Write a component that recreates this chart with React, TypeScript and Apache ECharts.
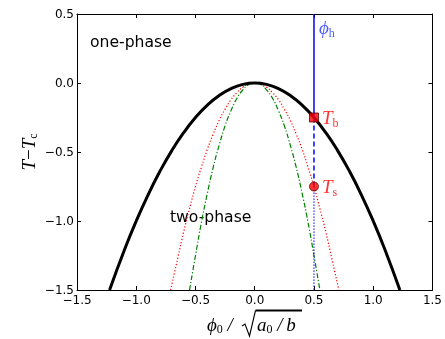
import React, { useEffect, useRef } from "react";
import * as echarts from "echarts";

// Binodal (thick black) curve points
const binodalX = [-1.225, -1.1, -1.0, -0.9, -0.8, -0.7, -0.6, -0.5, -0.4, -0.3, -0.2, -0.1, 0, 0.1, 0.2, 0.3, 0.4, 0.5, 0.6, 0.7, 0.8, 0.9, 1.0, 1.1, 1.225];
const binodalY = [-1.5, -1.21, -1.0, -0.81, -0.64, -0.49, -0.36, -0.25, -0.16, -0.09, -0.04, -0.01, 0, -0.01, -0.04, -0.09, -0.16, -0.25, -0.36, -0.49, -0.64, -0.81, -1.0, -1.21, -1.5];

// Spinodal (red dotted)
const spinodalX = [-0.71, -0.65, -0.6, -0.55, -0.5, -0.45, -0.4, -0.35, -0.3, -0.25, -0.2, -0.15, -0.1, -0.05, 0, 0.05, 0.1, 0.15, 0.2, 0.25, 0.3, 0.35, 0.4, 0.45, 0.5, 0.55, 0.6, 0.65, 0.71];
const spinodalY = [-1.5, -1.27, -1.08, -0.91, -0.75, -0.61, -0.48, -0.37, -0.27, -0.19, -0.12, -0.07, -0.03, -0.01, 0, -0.01, -0.03, -0.07, -0.12, -0.19, -0.27, -0.37, -0.48, -0.61, -0.75, -0.91, -1.08, -1.27, -1.5];

// Green dash-dot curve
const greenX = [-0.55, -0.5, -0.45, -0.4, -0.35, -0.3, -0.25, -0.2, -0.15, -0.1, -0.05, 0, 0.05, 0.1, 0.15, 0.2, 0.25, 0.3, 0.35, 0.4, 0.45, 0.5, 0.55];
const greenY = [-1.5, -1.25, -1.01, -0.8, -0.61, -0.45, -0.31, -0.2, -0.11, -0.05, -0.01, 0, -0.01, -0.05, -0.11, -0.2, -0.31, -0.45, -0.61, -0.8, -1.01, -1.25, -1.5];

// Vertical quench path at phi_h
const phiH = 0.5;
const topY = 0.5;
const tbY = -0.25;
const tsY = -0.75;
const bottomY = -1.5;

const xTicks = { min: -1.5, max: 1.5, interval: 0.5 };
const yTicks = { min: -1.5, max: 0.5, interval: 0.5 };

const zip = (xs: number[], ys: number[]) => xs.map((x, i) => [x, ys[i]]);

const serif = "Liberation Serif";
const sans = "DejaVu Sans";

const fmt = (v: number) => v.toFixed(1).replace("-", "\u2212");

export default function App() {
  const ref = useRef<HTMLDivElement>(null);
  useEffect(() => {
    if (!ref.current) return;
    const chart = echarts.init(ref.current, undefined, { renderer: "svg" });
    const axisCommon = {
      type: "value" as const,
      axisLine: { show: true, onZero: false, lineStyle: { color: "#000", width: 1 } },
      axisTick: { show: true, inside: true, length: 4, lineStyle: { color: "#000", width: 1 } },
      splitLine: { show: false },
    };
    const labelStyle = { color: "#000", fontFamily: sans, fontSize: 12 };
    const mathRich = {
      i: { fontFamily: serif, fontStyle: "italic", fontSize: 19, lineHeight: 22 },
      s: { fontFamily: serif, fontSize: 12, verticalAlign: "bottom", lineHeight: 8 },
    };
    chart.setOption({
      animation: false,
      grid: { left: 77, right: 11, top: 14, bottom: 49 },
      xAxis: [
        { ...axisCommon, position: "bottom", ...xTicks, axisLabel: { ...labelStyle, margin: 4, formatter: fmt } },
        { ...axisCommon, position: "top", ...xTicks, axisLabel: { show: false } },
      ],
      yAxis: [
        { ...axisCommon, position: "left", ...yTicks, axisLabel: { ...labelStyle, margin: 3, formatter: fmt } },
        { ...axisCommon, position: "right", ...yTicks, axisLabel: { show: false } },
      ],
      series: [
        {
          type: "line", data: zip(spinodalX, spinodalY), symbol: "none", smooth: true,
          lineStyle: { color: "#ff0000", width: 1.2, type: [1.2, 2] },
        },
        {
          type: "line", data: zip(greenX, greenY), symbol: "none", smooth: true,
          lineStyle: { color: "#008000", width: 1.2, type: [5, 2, 1.2, 2] },
        },
        {
          type: "line", data: zip(binodalX, binodalY), symbol: "none", smooth: true,
          lineStyle: { color: "#000", width: 3 },
        },
        {
          type: "line", data: [[phiH, topY], [phiH, tbY]], symbol: "none",
          lineStyle: { color: "#0000ff", width: 1.5 },
        },
        {
          type: "line", data: [[phiH, tbY], [phiH, tsY]], symbol: "none",
          lineStyle: { color: "#0000ff", width: 1.5, type: [5, 3] },
        },
        {
          type: "line", data: [[phiH, tsY], [phiH, bottomY]], symbol: "none",
          lineStyle: { color: "#0000ff", width: 1.2, type: [1.2, 1.8] },
        },
        {
          type: "scatter", data: [[phiH, tbY]], symbol: "rect", symbolSize: 9,
          itemStyle: { color: "#ff0000", borderColor: "#550000", borderWidth: 1 },
          label: { show: true, position: "right", distance: 3, formatter: "{i|T}{s|b}", color: "#ff0000", rich: mathRich },
          z: 5,
        },
        {
          type: "scatter", data: [[phiH, tsY]], symbol: "circle", symbolSize: 9,
          itemStyle: { color: "#ff0000", borderColor: "#550000", borderWidth: 1 },
          label: { show: true, position: "right", distance: 3, formatter: "{i|T}{s|s}", color: "#ff0000", rich: mathRich },
          z: 5,
        },
        {
          type: "scatter", data: [[phiH, 0.4]], symbol: "circle", symbolSize: 0,
          label: { show: true, position: "right", distance: 5, formatter: "{i|\u03d5}{s|h}", color: "#2233ff", rich: mathRich },
          z: 5,
        },
      ],
      graphic: [
        { type: "text", left: 90, top: 34, style: { text: "one-phase", fontFamily: sans, fontSize: 15.6, fill: "#000" } },
        { type: "text", left: 170, top: 209, style: { text: "two-phase", fontFamily: sans, fontSize: 15.6, fill: "#000" } },
        {
          type: "text", x: 28, y: 152, rotation: Math.PI / 2,
          style: {
            text: "{i|T}{r|\u2212}{i|T}{s|c}", align: "center", verticalAlign: "middle",
            rich: { ...mathRich, r: { fontFamily: serif, fontSize: 19, lineHeight: 22 } }, fill: "#000",
          },
        },
        {
          type: "text", x: 207, y: 324,
          style: { text: "{i|\u03d5}{s|0}{i| /}", align: "left", verticalAlign: "middle", rich: mathRich, fill: "#000" },
        },
        {
          type: "text", x: 257, y: 324,
          style: { text: "{i|a}{s|0}{i| /\u2009b}", align: "left", verticalAlign: "middle", rich: mathRich, fill: "#000" },
        },
        {
          type: "polyline",
          shape: { points: [[242, 326], [245, 324], [249.5, 336], [255.5, 310.5]] },
          style: { stroke: "#000", lineWidth: 1.1, fill: null },
        },
        {
          type: "line",
          shape: { x1: 255.5, y1: 310.5, x2: 302, y2: 310.5 },
          style: { stroke: "#000", lineWidth: 1.8 },
        },
      ],
    });
    return () => chart.dispose();
  }, []);
  return <div ref={ref} style={{ position: "fixed", left: 0, top: 0, width: 445, height: 339 }} />;
}
